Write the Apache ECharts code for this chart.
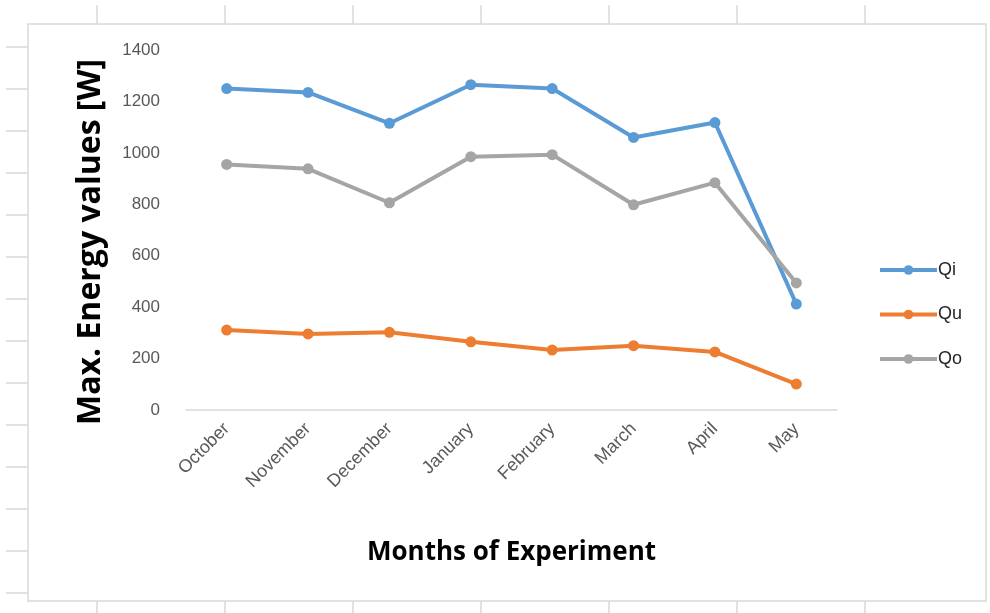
<!DOCTYPE html>
<html>
<head>
<meta charset="utf-8">
<script src="https://cdn.jsdelivr.net/npm/echarts@6/dist/echarts.min.js"></script>
<style>
html,body{margin:0;padding:0;background:#fff;}
#chart{width:990px;height:613px;}
</style>
</head>
<body>
<div id="chart"></div>
<script>
var months = ['October','November','December','January','February','March','April','May'];
var qi = [1250, 1235, 1115, 1265, 1250, 1060, 1118, 412];
var qu = [311, 296, 302, 265, 233, 250, 226, 101];
var qo = [955, 938, 806, 985, 993, 798, 884, 494];
var yTicks = {min: 0, max: 1400, interval: 200};
var yTitle = 'Max. Energy values [W]';
var xTitle = 'Months of Experiment';

var sheetColTicks = [97, 225, 353, 481, 609, 737, 865];
var sheetRowTicks = [47, 89, 131, 173, 215, 257, 299, 341, 383, 425, 467, 509, 551, 593];

var chart = echarts.init(document.getElementById('chart'));

var deco = [];
deco.push({type:'rect', shape:{x:28, y:24, width:958, height:577}, style:{fill:'#fff', stroke:'#d9d9d9', lineWidth:1.5}, z:-10});
sheetColTicks.forEach(function(x){
  deco.push({type:'line', shape:{x1:x, y1:5, x2:x, y2:24}, style:{stroke:'#d9d9d9', lineWidth:1.5}, z:-10});
  deco.push({type:'line', shape:{x1:x, y1:601, x2:x, y2:613}, style:{stroke:'#d9d9d9', lineWidth:1.5}, z:-10});
});
sheetRowTicks.forEach(function(y){
  deco.push({type:'line', shape:{x1:6, y1:y, x2:28, y2:y}, style:{stroke:'#d9d9d9', lineWidth:1.5}, z:-10});
});
deco.push({type:'text', x:91, y:242, rotation: Math.PI/2,
  style:{text: yTitle, fontFamily:'Open Sans', fontWeight:'bold', fontSize:32, fill:'#000', align:'center', verticalAlign:'middle'}});

function mkSeries(name, data, color){
  return {
    name: name, type: 'line', data: data,
    symbol: 'circle', symbolSize: 11,
    lineStyle: {width: 4, color: color},
    itemStyle: {color: color},
    emphasis: {disabled: true},
    animation: false
  };
}

chart.setOption({
  animation: false,
  backgroundColor: '#fff',
  graphic: deco,
  grid: {left: 186, right: 153, top: 50, bottom: 203},
  legend: {
    orient: 'vertical', left: 873, top: 256, itemWidth: 57, itemHeight: 12, itemGap: 26.5,
    lineStyle: {width: 4},
    textStyle: {fontFamily: 'Liberation Sans', fontSize: 18, color: '#262626', padding:[0,0,0,-4]},
    data: ['Qi','Qu','Qo']
  },
  xAxis: {
    type: 'category', data: months, boundaryGap: true,
    axisLine: {lineStyle: {color: '#d9d9d9', width: 1.5}},
    axisTick: {show: false},
    axisLabel: {rotate: 45, fontFamily: 'Liberation Sans', fontSize: 18, color: '#595959', margin: 16, interval: 0},
    name: xTitle, nameLocation: 'middle', nameGap: 130,
    nameTextStyle: {fontFamily: 'Open Sans', fontWeight: 'bold', fontSize: 26, color: '#000'}
  },
  yAxis: {
    type: 'value', min: yTicks.min, max: yTicks.max, interval: yTicks.interval,
    splitLine: {show: false},
    axisLine: {show: false}, axisTick: {show: false},
    axisLabel: {fontFamily: 'Liberation Sans', fontSize: 17, color: '#595959', margin: 26,
      formatter: function(v){ return String(v); }}
  },
  series: [
    mkSeries('Qi', qi, '#5b9bd5'),
    mkSeries('Qu', qu, '#ed7d31'),
    mkSeries('Qo', qo, '#a5a5a5')
  ]
});
</script>
</body>
</html>
